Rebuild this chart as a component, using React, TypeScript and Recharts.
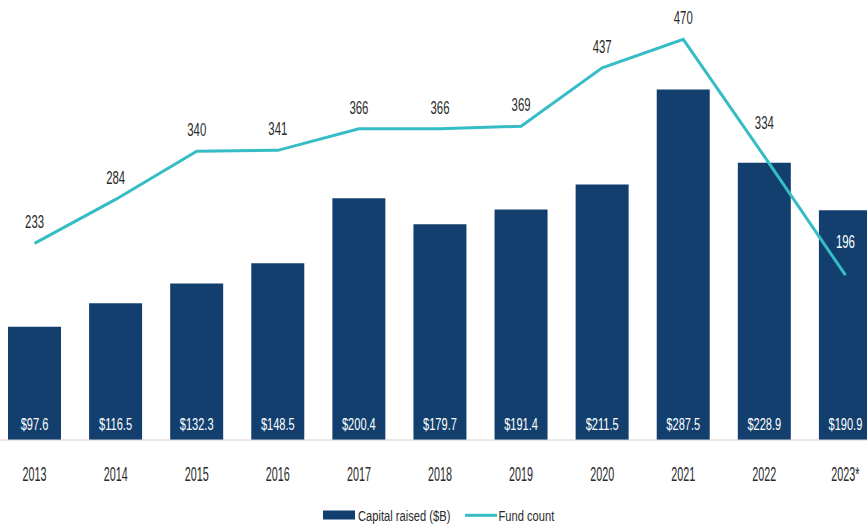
import React from 'react';
import { ComposedChart, Bar, Line, XAxis, YAxis, Legend, LabelList } from 'recharts';

const years = ['2013', '2014', '2015', '2016', '2017', '2018', '2019', '2020', '2021', '2022', '2023*'];
const capitalRaised = [97.6, 116.5, 132.3, 148.5, 200.4, 179.7, 191.4, 211.5, 287.5, 228.9, 190.9];
const fundCount = [233, 284, 340, 341, 366, 366, 369, 437, 470, 334, 196];

const data = years.map((y, i) => ({ year: y, capital: capitalRaised[i], funds: fundCount[i] }));

const BAR_COLOR = '#123f6e';
const LINE_COLOR = '#36bcc5';
const TEXT_COLOR = '#2a2a2a';
const FONT = '"Liberation Sans", Arial, sans-serif';
const PLOT_BOTTOM = 440;

const YearTick = (props: any) => {
  const { x, payload } = props;
  return (
    <g transform={`translate(${x},${PLOT_BOTTOM + 40.5}) scale(0.54,1)`}>
      <text x={0} y={0} textAnchor="middle" fontFamily={FONT} fontSize={20} fill={TEXT_COLOR}>
        {payload.value}
      </text>
    </g>
  );
};

const BarValueLabel = (props: any) => {
  const { x, width, value } = props;
  return (
    <g transform={`translate(${x + width / 2},${PLOT_BOTTOM - 10}) scale(0.65,1)`}>
      <text x={0} y={0} textAnchor="middle" fontFamily={FONT} fontSize={17} fill="#ffffff">
        {`$${value.toFixed(1)}`}
      </text>
    </g>
  );
};

const LineValueLabel = (props: any) => {
  const { x, y, value, index } = props;
  const prev = index > 0 ? fundCount[index - 1] : value;
  const descending = value < prev;
  const lift = descending ? 27 : 15;
  const isLast = index === fundCount.length - 1;
  return (
    <g transform={`translate(${x},${y - lift}) scale(0.6,1)`}>
      <text x={0} y={0} textAnchor="middle" fontFamily={FONT} fontSize={19} fill={isLast ? '#ffffff' : TEXT_COLOR}>
        {value}
      </text>
    </g>
  );
};

const renderLegend = () => (
  <svg width={892} height={40} style={{ display: 'block' }}>
    <rect x={329} y={25.5} width={32} height={9} fill={BAR_COLOR} />
    <g transform="translate(364,35.5) scale(0.72,1)">
      <text x={0} y={0} fontFamily={FONT} fontSize={15.5} fill={TEXT_COLOR}>Capital raised ($B)</text>
    </g>
    <line x1={471} x2={503} y1={30.3} y2={30.3} stroke={LINE_COLOR} strokeWidth={3} />
    <g transform="translate(504.5,35.5) scale(0.72,1)">
      <text x={0} y={0} fontFamily={FONT} fontSize={15.5} fill={TEXT_COLOR}>Fund count</text>
    </g>
  </svg>
);

export default function App() {
  return (
    <div style={{ position: 'fixed', left: 0, top: 0, width: 867, height: 525, overflow: 'hidden', background: '#ffffff' }}>
      <div style={{ position: 'absolute', left: -6, top: 0 }}>
        <ComposedChart width={892} height={525} data={data} margin={{ top: 0, right: 0, bottom: 0, left: 0 }}>
          <XAxis
            dataKey="year"
            height={45}
            tickLine={false}
            axisLine={{ stroke: '#d8d0d0', strokeWidth: 1 }}
            tick={<YearTick />}
            interval={0}
          />
          <YAxis yAxisId="bar" hide domain={[7, 359]} allowDataOverflow />
          <YAxis yAxisId="line" hide domain={[4.5, 515.7]} allowDataOverflow orientation="right" />
          <Bar yAxisId="bar" dataKey="capital" fill={BAR_COLOR} barSize={53} isAnimationActive={false}>
            <LabelList dataKey="capital" content={<BarValueLabel />} />
          </Bar>
          <Line
            yAxisId="line"
            type="linear"
            dataKey="funds"
            stroke={LINE_COLOR}
            strokeWidth={3}
            dot={false}
            activeDot={false}
            isAnimationActive={false}
          >
            <LabelList dataKey="funds" content={<LineValueLabel />} />
          </Line>
          <Legend verticalAlign="bottom" height={40} content={renderLegend} />
        </ComposedChart>
      </div>
    </div>
  );
}
